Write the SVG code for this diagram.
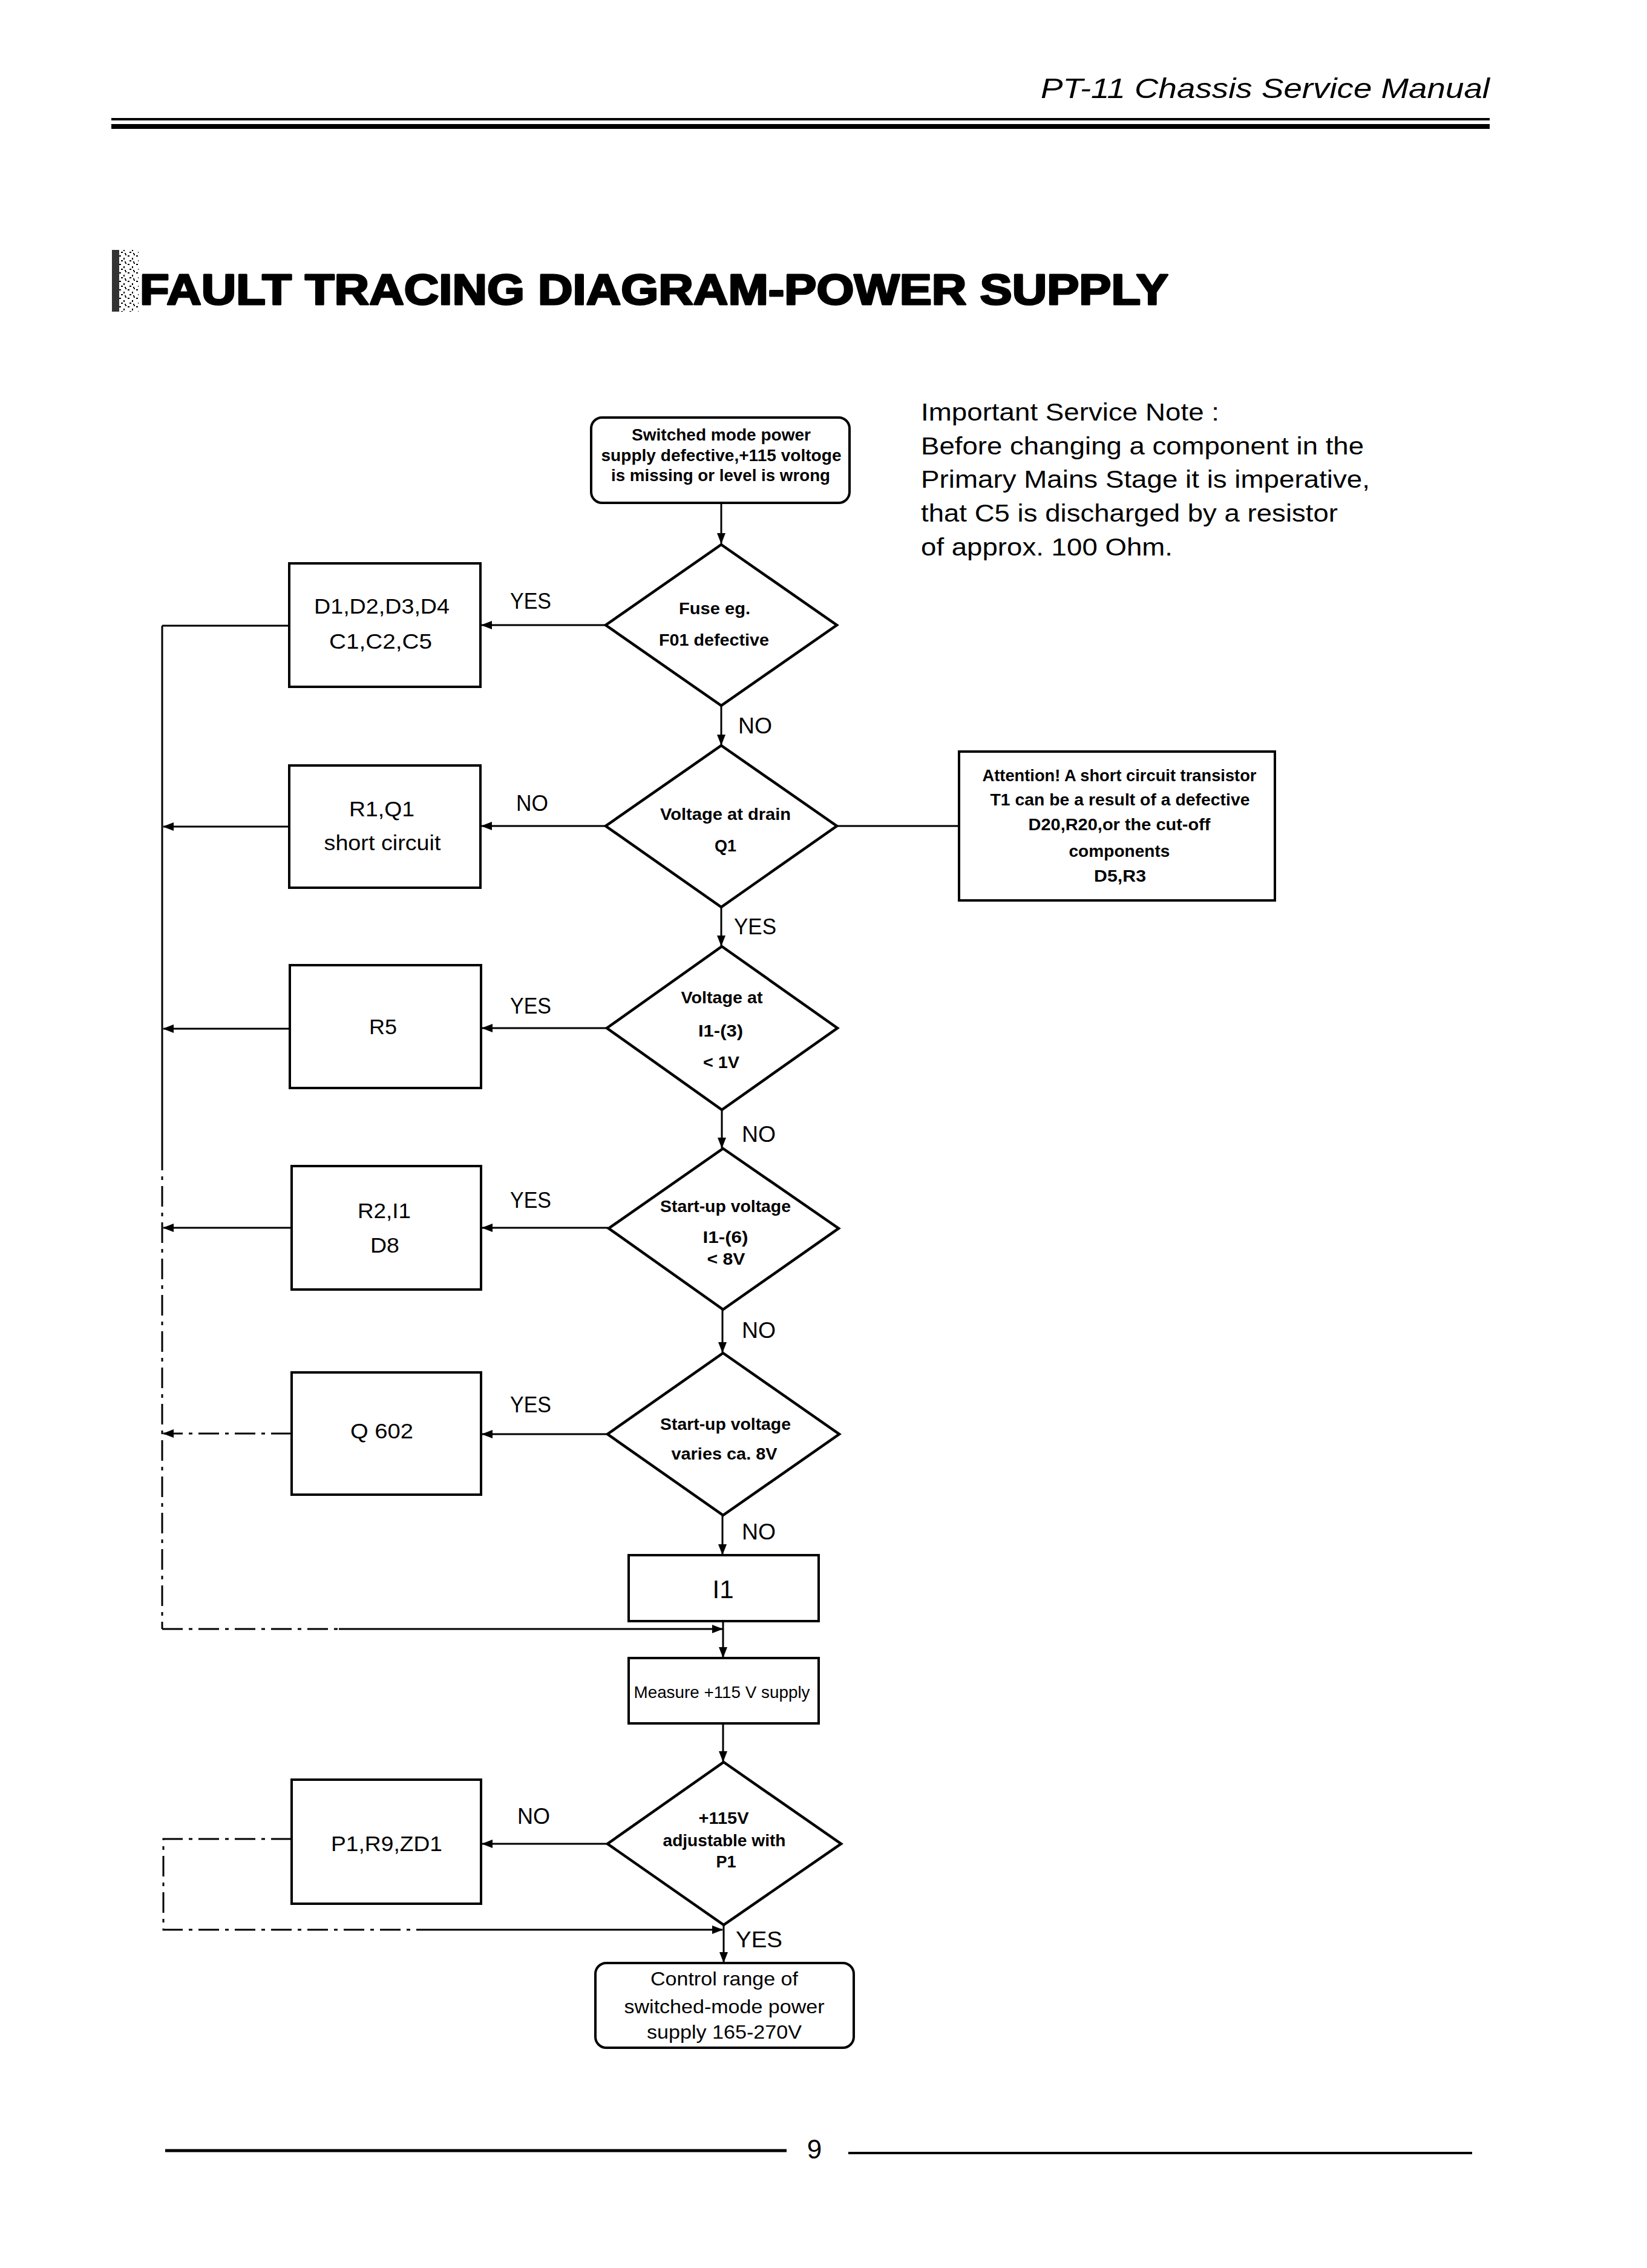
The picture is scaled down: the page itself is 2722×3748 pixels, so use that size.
<svg xmlns="http://www.w3.org/2000/svg" width="2722" height="3748" viewBox="0 0 2722 3748">
<defs>
<style>
.bg{fill:#fff}
.box{fill:#fff;stroke:#000;stroke-width:4}
.dia{fill:#fff;stroke:#000;stroke-width:4.5}
.ln{fill:none;stroke:#000;stroke-width:3}
.dash{fill:none;stroke:#000;stroke-width:3;stroke-dasharray:34 10 6 10}
.t{font-family:"Liberation Sans",Arial,sans-serif;fill:#000}
.reg{font-size:35px;text-anchor:middle}
.lab{font-size:37px}
.db{font-size:27px;font-weight:bold;text-anchor:middle}
.note{font-size:41px}
</style>
<marker id="ah" viewBox="0 0 18 14" refX="17" refY="7" markerWidth="18" markerHeight="14" markerUnits="userSpaceOnUse" orient="auto">
<path d="M0,0 L18,7 L0,14 Z" fill="#000"/>
</marker>
<pattern id="speck" width="14" height="14" patternUnits="userSpaceOnUse">
<rect x="1" y="2" width="3" height="2" fill="#000"/>
<rect x="8" y="6" width="2" height="3" fill="#000"/>
<rect x="4" y="10" width="3" height="2" fill="#000"/>
<rect x="11" y="0" width="2" height="2" fill="#000"/>
<rect x="10" y="12" width="2" height="2" fill="#000"/>
</pattern>
</defs>
<rect class="bg" x="0" y="0" width="2722" height="3748"/>

<g id="header">
<text class="t" x="1720" y="162" font-size="46" font-style="italic" textLength="742" lengthAdjust="spacingAndGlyphs">PT-11 Chassis Service Manual</text>
<line x1="184" y1="197" x2="2462" y2="197" stroke="#000" stroke-width="4"/>
<line x1="184" y1="209" x2="2462" y2="209" stroke="#000" stroke-width="8"/>
</g>

<g id="title">
<rect x="185" y="413" width="12" height="102" fill="#333"/>
<rect x="197" y="413" width="32" height="102" fill="url(#speck)"/>
<text class="t" x="231" y="503" font-size="71" font-weight="900" stroke="#000" stroke-width="3" stroke-linejoin="round" textLength="1700" lengthAdjust="spacingAndGlyphs">FAULT TRACING DIAGRAM-POWER SUPPLY</text>
</g>

<g id="service-note">
<text class="t note" x="1522" y="695" textLength="493" lengthAdjust="spacingAndGlyphs">Important Service Note :</text>
<text class="t note" x="1522" y="751" textLength="732" lengthAdjust="spacingAndGlyphs">Before changing a component in the</text>
<text class="t note" x="1522" y="806" textLength="742" lengthAdjust="spacingAndGlyphs">Primary Mains Stage it is imperative,</text>
<text class="t note" x="1522" y="862" textLength="689" lengthAdjust="spacingAndGlyphs">that C5 is discharged by a resistor</text>
<text class="t note" x="1522" y="918" textLength="416" lengthAdjust="spacingAndGlyphs">of approx. 100 Ohm.</text>
</g>

<g id="connectors">
<line class="ln" x1="1192" y1="831" x2="1192" y2="898" marker-end="url(#ah)"/>
<line class="ln" x1="1001" y1="1033" x2="796" y2="1033" marker-end="url(#ah)"/>
<line class="ln" x1="478" y1="1034" x2="268" y2="1034"/>
<line class="ln" x1="268" y1="1034" x2="268" y2="1900"/>
<line class="dash" x1="268" y1="1900" x2="268" y2="2692"/>
<line class="ln" x1="1192" y1="1166" x2="1192" y2="1231" marker-end="url(#ah)"/>
<line class="ln" x1="1001" y1="1365" x2="796" y2="1365" marker-end="url(#ah)"/>
<line class="ln" x1="478" y1="1366" x2="270" y2="1366" marker-end="url(#ah)"/>
<line class="ln" x1="1383" y1="1365" x2="1585" y2="1365"/>
<line class="ln" x1="1192" y1="1499" x2="1192" y2="1563" marker-end="url(#ah)"/>
<line class="ln" x1="1003" y1="1699" x2="797" y2="1699" marker-end="url(#ah)"/>
<line class="ln" x1="479" y1="1700" x2="270" y2="1700" marker-end="url(#ah)"/>
<line class="ln" x1="1193" y1="1834" x2="1193" y2="1897" marker-end="url(#ah)"/>
<line class="ln" x1="1005" y1="2029" x2="797" y2="2029" marker-end="url(#ah)"/>
<line class="ln" x1="482" y1="2029" x2="270" y2="2029" marker-end="url(#ah)"/>
<line class="ln" x1="1194" y1="2164" x2="1194" y2="2235" marker-end="url(#ah)"/>
<line class="ln" x1="1004" y1="2370" x2="797" y2="2370" marker-end="url(#ah)"/>
<line class="dash" x1="482" y1="2369" x2="270" y2="2369" marker-end="url(#ah)"/>
<line class="ln" x1="1194" y1="2504" x2="1194" y2="2569" marker-end="url(#ah)"/>
<line class="dash" x1="268" y1="2692" x2="560" y2="2692"/>
<line class="ln" x1="560" y1="2692" x2="1194" y2="2692" marker-end="url(#ah)"/>
<line class="ln" x1="1195" y1="2679" x2="1195" y2="2739" marker-end="url(#ah)"/>
<line class="ln" x1="1195" y1="2848" x2="1195" y2="2911" marker-end="url(#ah)"/>
<line class="ln" x1="1004" y1="3047" x2="797" y2="3047" marker-end="url(#ah)"/>
<polyline class="dash" points="482,3039 270,3039 270,3189 700,3189"/>
<line class="ln" x1="700" y1="3189" x2="1194" y2="3189" marker-end="url(#ah)"/>
<line class="ln" x1="1196" y1="3181" x2="1196" y2="3243" marker-end="url(#ah)"/>
</g>

<g id="labels">
<text class="t lab" x="843" y="1006" textLength="68" lengthAdjust="spacingAndGlyphs">YES</text>
<text class="t lab" x="1220" y="1212" textLength="56" lengthAdjust="spacingAndGlyphs">NO</text>
<text class="t lab" x="853" y="1340" textLength="53" lengthAdjust="spacingAndGlyphs">NO</text>
<text class="t lab" x="1213" y="1544" textLength="70" lengthAdjust="spacingAndGlyphs">YES</text>
<text class="t lab" x="843" y="1675" textLength="68" lengthAdjust="spacingAndGlyphs">YES</text>
<text class="t lab" x="1226" y="1887" textLength="56" lengthAdjust="spacingAndGlyphs">NO</text>
<text class="t lab" x="843" y="1996" textLength="68" lengthAdjust="spacingAndGlyphs">YES</text>
<text class="t lab" x="1226" y="2211" textLength="56" lengthAdjust="spacingAndGlyphs">NO</text>
<text class="t lab" x="843" y="2334" textLength="68" lengthAdjust="spacingAndGlyphs">YES</text>
<text class="t lab" x="1226" y="2544" textLength="56" lengthAdjust="spacingAndGlyphs">NO</text>
<text class="t lab" x="855" y="3014" textLength="54" lengthAdjust="spacingAndGlyphs">NO</text>
<text class="t lab" x="1216" y="3218" textLength="77" lengthAdjust="spacingAndGlyphs">YES</text>
</g>

<g id="start">
<rect class="box" x="977" y="690" width="427" height="141" rx="18" ry="18"/>
<text class="t db" x="1192" y="728" font-size="26" textLength="296" lengthAdjust="spacingAndGlyphs">Switched mode power</text>
<text class="t db" x="1192" y="762" font-size="26" textLength="397" lengthAdjust="spacingAndGlyphs">supply defective,+115 voltoge</text>
<text class="t db" x="1191" y="795" font-size="26" textLength="362" lengthAdjust="spacingAndGlyphs">is missing or level is wrong</text>
</g>

<g id="d1">
<polygon class="dia" points="1192,900 1383,1033 1192,1166 1001,1033"/>
<text class="t db" x="1181" y="1015" textLength="118" lengthAdjust="spacingAndGlyphs">Fuse eg.</text>
<text class="t db" x="1180" y="1067" textLength="182" lengthAdjust="spacingAndGlyphs">F01 defective</text>
</g>

<g id="b1">
<rect class="box" x="478" y="931" width="316" height="204"/>
<text class="t reg" x="631" y="1014" textLength="224" lengthAdjust="spacingAndGlyphs">D1,D2,D3,D4</text>
<text class="t reg" x="629" y="1072" textLength="170" lengthAdjust="spacingAndGlyphs">C1,C2,C5</text>
</g>

<g id="d2">
<polygon class="dia" points="1192,1232 1383,1365 1192,1499 1001,1365"/>
<text class="t db" x="1199" y="1355" textLength="216" lengthAdjust="spacingAndGlyphs">Voltage at drain</text>
<text class="t db" x="1199" y="1407">Q1</text>
</g>

<g id="b2">
<rect class="box" x="478" y="1265" width="316" height="202"/>
<text class="t reg" x="631" y="1349" textLength="108" lengthAdjust="spacingAndGlyphs">R1,Q1</text>
<text class="t reg" x="632" y="1405" textLength="193" lengthAdjust="spacingAndGlyphs">short circuit</text>
</g>

<g id="attention">
<rect class="box" x="1585" y="1242" width="522" height="246"/>
<text class="t db" x="1850" y="1291" textLength="453" lengthAdjust="spacingAndGlyphs">Attention! A short circuit transistor</text>
<text class="t db" x="1851" y="1331" textLength="429" lengthAdjust="spacingAndGlyphs">T1 can be a result of a defective</text>
<text class="t db" x="1850" y="1372" textLength="301" lengthAdjust="spacingAndGlyphs">D20,R20,or the cut-off</text>
<text class="t db" x="1850" y="1416" textLength="167" lengthAdjust="spacingAndGlyphs">components</text>
<text class="t db" x="1851" y="1457" textLength="86" lengthAdjust="spacingAndGlyphs">D5,R3</text>
</g>

<g id="d3">
<polygon class="dia" points="1193,1564 1384,1699 1193,1834 1003,1699"/>
<text class="t db" x="1193" y="1658" textLength="135" lengthAdjust="spacingAndGlyphs">Voltage at</text>
<text class="t db" x="1191" y="1713" font-weight="normal" textLength="74" lengthAdjust="spacingAndGlyphs">I1-(3)</text>
<text class="t db" x="1192" y="1765" font-weight="normal" textLength="60" lengthAdjust="spacingAndGlyphs">&lt; 1V</text>
</g>

<g id="b3">
<rect class="box" x="479" y="1595" width="316" height="203"/>
<text class="t reg" x="633" y="1709" textLength="46" lengthAdjust="spacingAndGlyphs">R5</text>
</g>

<g id="d4">
<polygon class="dia" points="1195,1898 1386,2030 1195,2164 1006,2030"/>
<text class="t db" x="1199" y="2003" textLength="216" lengthAdjust="spacingAndGlyphs">Start-up voltage</text>
<text class="t db" x="1199" y="2054" font-weight="normal" textLength="75" lengthAdjust="spacingAndGlyphs">I1-(6)</text>
<text class="t db" x="1200" y="2090" textLength="63" lengthAdjust="spacingAndGlyphs">&lt; 8V</text>
</g>

<g id="b4">
<rect class="box" x="482" y="1927" width="313" height="204"/>
<text class="t reg" x="635" y="2013" textLength="88" lengthAdjust="spacingAndGlyphs">R2,I1</text>
<text class="t reg" x="636" y="2070" textLength="48" lengthAdjust="spacingAndGlyphs">D8</text>
</g>

<g id="d5">
<polygon class="dia" points="1195,2236 1387,2370 1195,2504 1004,2370"/>
<text class="t db" x="1199" y="2363" textLength="216" lengthAdjust="spacingAndGlyphs">Start-up voltage</text>
<text class="t db" x="1197" y="2412" textLength="175" lengthAdjust="spacingAndGlyphs">varies ca. 8V</text>
</g>

<g id="b5">
<rect class="box" x="482" y="2268" width="313" height="202"/>
<text class="t reg" x="631" y="2377" textLength="104" lengthAdjust="spacingAndGlyphs">Q 602</text>
</g>

<g id="i1">
<rect class="box" x="1039" y="2570" width="314" height="109" stroke-width="5"/>
<text class="t" x="1195" y="2641" font-size="42" text-anchor="middle">I1</text>
</g>

<g id="measure">
<rect class="box" x="1039" y="2740" width="314" height="108" stroke-width="5"/>
<text class="t" x="1193" y="2806" font-size="28" text-anchor="middle" textLength="291" lengthAdjust="spacingAndGlyphs">Measure +115 V supply</text>
</g>

<g id="d6">
<polygon class="dia" points="1196,2912 1390,3047 1196,3181 1004,3047"/>
<text class="t db" x="1196" y="3014" textLength="83" lengthAdjust="spacingAndGlyphs">+115V</text>
<text class="t db" x="1197" y="3051" textLength="203" lengthAdjust="spacingAndGlyphs">adjustable with</text>
<text class="t db" x="1200" y="3086">P1</text>
</g>

<g id="b6">
<rect class="box" x="482" y="2941" width="313" height="205"/>
<text class="t reg" x="639" y="3059" textLength="184" lengthAdjust="spacingAndGlyphs">P1,R9,ZD1</text>
</g>

<g id="end">
<rect class="box" x="984" y="3244" width="427" height="140" rx="18" ry="18"/>
<text class="t" x="1197" y="3281" font-size="32" text-anchor="middle" textLength="244" lengthAdjust="spacingAndGlyphs">Control range of</text>
<text class="t" x="1197" y="3327" font-size="32" text-anchor="middle" textLength="331" lengthAdjust="spacingAndGlyphs">switched-mode power</text>
<text class="t" x="1197" y="3369" font-size="32" text-anchor="middle" textLength="256" lengthAdjust="spacingAndGlyphs">supply 165-270V</text>
</g>

<g id="footer">
<line x1="273" y1="3554" x2="1300" y2="3554" stroke="#000" stroke-width="5"/>
<line x1="1402" y1="3558" x2="2433" y2="3558" stroke="#000" stroke-width="4"/>
<text class="t" x="1346" y="3567" font-size="44" text-anchor="middle">9</text>
</g>
</svg>
